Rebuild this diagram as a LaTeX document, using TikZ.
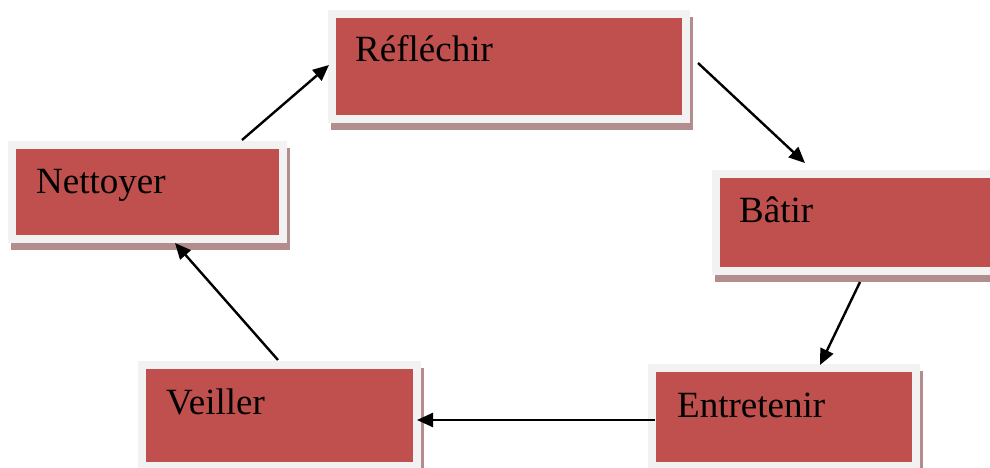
\documentclass[tikz,border=0pt]{standalone}
\usepackage{fontspec}
\setmainfont{Liberation Serif}
\usetikzlibrary{arrows.meta,backgrounds,calc}
\definecolor{boxred}{HTML}{C0504D}
\definecolor{boxgrey}{HTML}{F2F2F2}
\definecolor{shadowc}{HTML}{B38D8D}
\tikzset{
  box/.style={rectangle, anchor=north west, inner sep=0pt, outer sep=0pt,
    fill=boxred, draw=boxgrey, line width=8pt},
  shad/.style={fill=shadowc},
  lbl/.style={anchor=base west, inner sep=0pt, font=\fontsize{37}{44}\selectfont},
  arr/.style={line width=2.4pt, -{Triangle[length=16pt,width=14pt]}}
}
\begin{document}
\begin{tikzpicture}[x=1pt,y=-1pt]
\useasboundingbox (0,0) rectangle (990,468);
\begin{scope}
\clip (0,0) rectangle (990,468);
\node[box, minimum width=354pt, minimum height=105.5pt] (r) at (332,14) {};
\node[box, minimum width=271pt, minimum height=94pt] (n) at (12,145) {};
\node[box, minimum width=290pt, minimum height=97pt] (b) at (716,174) {};
\node[box, minimum width=264pt, minimum height=98pt] (e) at (652,368) {};
\node[box, minimum width=275pt, minimum height=101pt] (v) at (142,365) {};
\begin{scope}[on background layer]
\foreach \k in {r,n,b,e,v}{
  \fill[shad] ($(\k.north west)+(-1,3)$) rectangle ($(\k.south east)+(7,11)$);
}
\end{scope}
\end{scope}
\node[lbl] (rt) at (355,62) {Réfléchir};
\node[lbl] (nt) at (36,193) {Nettoyer};
\node[lbl] (bt) at (739,222) {Bâtir};
\node[lbl] (et) at (677,417) {Entretenir};
\node[lbl] (vt) at (166,414) {Veiller};
\draw[arr] ($(n.north west)+(230,-5)$) -- ($(r.north west)+(-3,51)$);
\draw[arr] ($(r.north east)+(12,49)$) -- ($(b.north west)+(89,-11)$);
\draw[arr] ($(b.south west)+(144,11)$) -- ($(e.north west)+(168,-3)$);
\draw[arr] ($(e.north west)+(3,52)$) -- ($(v.north east)+(0,55)$);
\draw[arr] ($(v.north west)+(136,-5)$) -- ($(n.south west)+(163,4)$);
\end{tikzpicture}
\end{document}
